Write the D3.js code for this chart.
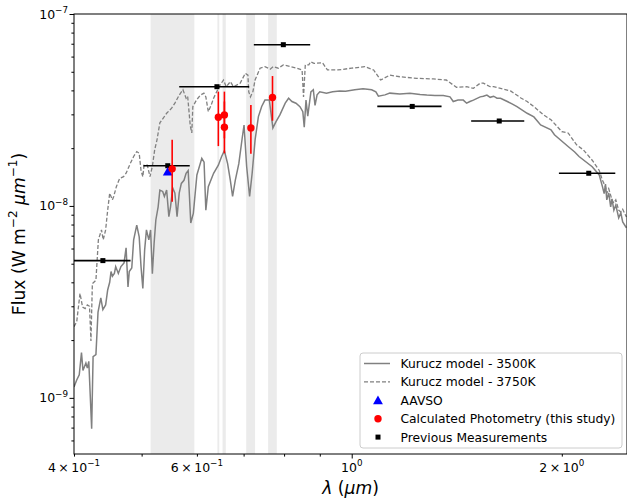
<!DOCTYPE html>
<html>
<head>
<meta charset="utf-8">
<script src="https://cdn.jsdelivr.net/npm/d3@7"></script>
<style>
  body { margin: 0; background: #fff; }
  svg { font-family: "DejaVu Sans", sans-serif; }
</style>
</head>
<body>
<div id="chart"></div>
<script>
// wavelength windows of the filters (grey bands), micron
const bandStart = [0.515, 0.642, 0.653, 0.706, 0.759];
const bandEnd   = [0.595, 0.646, 0.660, 0.727, 0.781];

// Kurucz model 3500K (lambda in micron, flux in W m^-2 um^-1)
const model3500Lambda = [0.400,0.4036,0.407,0.410,0.412,0.416,0.418,0.420,0.424,0.426,0.430,0.433,0.437,0.440,0.444,0.447,0.450,0.452,0.454,0.457,0.459,0.463,0.467,0.4718,0.475,0.478,0.480,0.484,0.487,0.492,0.496,0.499,0.502,0.505,0.508,0.512,0.515,0.518,0.521,0.524,0.528,0.531,0.536,0.539,0.543,0.547,0.550,0.554,0.558,0.562,0.566,0.570,0.575,0.579,0.583,0.588,0.593,0.600,0.6098,0.6144,0.618,0.623,0.634,0.644,0.651,0.657,0.664,0.670,0.675,0.681,0.689,0.697,0.701,0.707,0.714,0.720,0.727,0.735,0.743,0.751,0.762,0.771,0.779,0.789,0.803,0.812,0.821,0.832,0.843,0.851,0.855,0.860,0.865,0.874,0.881,0.886,0.892,0.900,0.920,0.939,0.961,0.980,1.010,1.038,1.068,1.083,1.092,1.116,1.134,1.172,1.212,1.253,1.281,1.316,1.353,1.383,1.398,1.420,1.445,1.461,1.477,1.494,1.528,1.544,1.562,1.579,1.597,1.615,1.634,1.671,1.697,1.725,1.784,1.824,1.865,1.930,1.952,2.042,2.087,2.117,2.211,2.263,2.287,2.300,2.310,2.320,2.335,2.350,2.360,2.375,2.390,2.413,2.430,2.445,2.475];
const model3500Flux = [1.14e-9,1.24e-9,1.32e-9,1.72e-9,1.39e-9,1.52e-9,1.43e-9,1.55e-9,6.9e-10,1.64e-9,1.68e-9,2.80e-9,3.32e-9,2.88e-9,3.05e-9,3.65e-9,4.0e-9,4.55e-9,4.3e-9,4.45e-9,4.83e-9,4.45e-9,4.83e-9,5.05e-9,6.05e-9,3.78e-9,4.55e-9,4.75e-9,6.66e-9,7.95e-9,6.9e-9,4.83e-9,3.72e-9,5.9e-9,7.5e-9,6.66e-9,7.5e-9,4.43e-9,6.39e-9,8.45e-9,9.9e-9,1.21e-8,1.19e-8,1.12e-8,1.21e-8,8.8e-9,9.9e-9,1.24e-8,1.165e-8,8.8e-9,1.165e-8,1.31e-8,1.36e-8,1.48e-8,1.53e-8,8.15e-9,9.15e-9,1.45e-8,1.77e-8,1.69e-8,9.5e-9,1.26e-8,1.48e-8,1.63e-8,1.81e-8,1.94e-8,1.66e-8,1.36e-8,1.12e-8,1.36e-8,1.66e-8,2.28e-8,2.64e-8,1.61e-8,1.12e-8,1.48e-8,2.21e-8,2.92e-8,3.30e-8,3.56e-8,3.56e-8,2.55e-8,2.75e-8,2.98e-8,3.43e-8,3.64e-8,3.50e-8,3.43e-8,3.29e-8,3.10e-8,2.57e-8,3.56e-8,2.94e-8,3.93e-8,4.03e-8,3.34e-8,3.79e-8,3.93e-8,3.87e-8,3.93e-8,3.97e-8,3.96e-8,4.03e-8,4.08e-8,4.03e-8,3.93e-8,3.73e-8,3.79e-8,3.87e-8,3.83e-8,3.87e-8,3.81e-8,3.78e-8,3.76e-8,3.76e-8,3.70e-8,3.50e-8,3.56e-8,3.56e-8,3.43e-8,3.50e-8,3.56e-8,3.70e-8,3.73e-8,3.78e-8,3.68e-8,3.73e-8,3.64e-8,3.64e-8,3.50e-8,3.40e-8,3.29e-8,3.04e-8,2.91e-8,2.64e-8,2.49e-8,2.35e-8,2.04e-8,1.91e-8,1.81e-8,1.60e-8,1.45e-8,1.26e-8,1.16e-8,1.30e-8,1.075e-8,1.17e-8,9.9e-9,1.09e-8,9.5e-9,1.01e-8,8.66e-9,9.2e-9,8.25e-9,7.7e-9];

// Kurucz model 3750K
const model3750Lambda = [0.400,0.4036,0.408,0.4115,0.415,0.418,0.421,0.423,0.425,0.430,0.4335,0.438,0.4405,0.444,0.447,0.450,0.454,0.456,0.460,0.465,0.471,0.475,0.4815,0.487,0.492,0.496,0.499,0.502,0.504,0.5095,0.514,0.518,0.522,0.526,0.531,0.537,0.543,0.552,0.558,0.566,0.573,0.579,0.582,0.587,0.590,0.592,0.599,0.607,0.614,0.618,0.623,0.629,0.634,0.641,0.648,0.655,0.661,0.670,0.677,0.685,0.692,0.704,0.710,0.712,0.716,0.722,0.727,0.739,0.751,0.764,0.772,0.785,0.798,0.816,0.834,0.849,0.853,0.858,0.868,0.873,0.883,0.908,0.923,0.955,1.000,1.044,1.075,1.100,1.134,1.172,1.240,1.309,1.366,1.413,1.461,1.494,1.528,1.544,1.579,1.597,1.634,1.691,1.750,1.784,1.824,1.883,1.930,2.000,2.042,2.100,2.147,2.211,2.236,2.263,2.287,2.310,2.320,2.335,2.360,2.375,2.390,2.413,2.430,2.445,2.475];
const model3750Flux = [2.35e-9,2.49e-9,3.5e-9,2.97e-9,2.92e-9,3.05e-9,3.0e-9,1.98e-9,3.94e-9,4.1e-9,6.66e-9,7.5e-9,6.66e-9,7.5e-9,9.5e-9,1.165e-8,1.075e-8,1.12e-8,1.26e-8,1.39e-8,1.42e-8,1.48e-8,1.66e-8,1.81e-8,1.92e-8,1.88e-8,1.53e-8,1.42e-8,1.63e-8,1.63e-8,1.42e-8,1.61e-8,1.96e-8,2.21e-8,2.71e-8,2.87e-8,3.04e-8,3.23e-8,3.43e-8,3.78e-8,4.03e-8,3.64e-8,3.73e-8,2.62e-8,2.40e-8,3.29e-8,3.56e-8,3.78e-8,3.87e-8,3.70e-8,3.10e-8,3.36e-8,3.64e-8,3.96e-8,4.28e-8,4.53e-8,4.18e-8,4.44e-8,4.18e-8,4.27e-8,4.36e-8,4.91e-8,4.8e-8,3.93e-8,3.70e-8,3.96e-8,4.53e-8,5.22e-8,5.32e-8,5.16e-8,5.32e-8,5.22e-8,5.43e-8,5.32e-8,5.22e-8,5.11e-8,3.70e-8,5.43e-8,5.43e-8,5.64e-8,5.53e-8,5.57e-8,5.11e-8,5.11e-8,5.22e-8,5.32e-8,5.11e-8,4.53e-8,4.80e-8,4.71e-8,4.62e-8,4.59e-8,4.53e-8,4.15e-8,4.18e-8,4.10e-8,4.36e-8,4.36e-8,4.18e-8,4.18e-8,4.10e-8,3.96e-8,3.64e-8,3.50e-8,3.29e-8,2.98e-8,2.81e-8,2.44e-8,2.40e-8,2.08e-8,1.96e-8,1.73e-8,1.63e-8,1.53e-8,1.36e-8,1.26e-8,1.165e-8,1.23e-8,1.075e-8,1.035e-8,1.075e-8,9.5e-9,9.3e-9,9.6e-9,8.75e-9];

// previous measurements (B V R I J H K)
const prevLambda = [0.440, 0.545, 0.641, 0.798, 1.221, 1.627, 2.186];
const prevFlux   = [5.19e-9, 1.62e-8, 4.18e-8, 6.92e-8, 3.30e-8, 2.77e-8, 1.48e-8];
const prevLamLo  = [0.398, 0.503, 0.566, 0.724, 1.088, 1.483, 1.981];
const prevLamHi  = [0.482, 0.586, 0.713, 0.872, 1.345, 1.767, 2.386];

// AAVSO
const aavsoLambda = [0.545];
const aavsoFlux   = [1.51e-8];

// calculated photometry (this study)
const calcLambda = [0.553, 0.644, 0.657, 0.657, 0.717, 0.770];
const calcFlux   = [1.56e-8, 2.90e-8, 2.98e-8, 2.57e-8, 2.55e-8, 3.67e-8];
const calcLo     = [1.05e-8, 2.05e-8, 2.25e-8, 1.88e-8, 1.87e-8, 2.78e-8];
const calcHi     = [2.21e-8, 3.94e-8, 3.94e-8, 3.50e-8, 3.36e-8, 4.75e-8];

// axis ticks
const xMajor = [1];
const xMinor = [0.4, 0.5, 0.6, 0.7, 0.8, 0.9, 2];
const xLabels = [[0.4, "4\u2009\u00d7\u200910", "\u22121"], [0.6, "6\u2009\u00d7\u200910", "\u22121"], [1, "10", "0"], [2, "2\u2009\u00d7\u200910", "0"]];
const yMajor = [1e-9, 1e-8, 1e-7];
const yLabels = [[1e-9, "10", "\u22129"], [1e-8, "10", "\u22128"], [1e-7, "10", "\u22127"]];

const legendLabels = ["Kurucz model - 3500K", "Kurucz model - 3750K", "AAVSO",
                      "Calculated Photometry (this study)", "Previous Measurements"];

const W = 627, H = 498;
const m = {left: 74, right: 627, top: 14, bottom: 454};
const grey = "#808080";

const x = d3.scaleLog().domain([0.4, 2.48]).range([m.left, m.right]);
const y = d3.scaleLog().domain([5.1e-10, 1e-7]).range([m.bottom, m.top]);

const yMinor = [];
[1e-10, 1e-9, 1e-8].forEach(dec => { for (let k = 2; k <= 9; k++) { const v = k * dec; if (v >= 5.1e-10 && v < 1e-7) yMinor.push(v); } });

const svg = d3.select("#chart").append("svg").attr("width", W).attr("height", H);

svg.append("clipPath").attr("id", "clip").append("rect")
  .attr("x", m.left).attr("y", m.top).attr("width", m.right - m.left).attr("height", m.bottom - m.top);

const plot = svg.append("g").attr("clip-path", "url(#clip)");

// filter bands
plot.selectAll("rect.band").data(bandStart).enter().append("rect")
  .attr("class", "band")
  .attr("x", d => x(d))
  .attr("width", (d, i) => x(bandEnd[i]) - x(d))
  .attr("y", m.top).attr("height", m.bottom - m.top)
  .attr("fill", "#ebebeb");

const line = d3.line().x(d => x(d[0])).y(d => y(d[1]));

plot.append("path")
  .datum(model3500Lambda.map((l, i) => [l, model3500Flux[i]]))
  .attr("d", line).attr("fill", "none").attr("stroke", grey).attr("stroke-width", 1.5);

plot.append("path")
  .datum(model3750Lambda.map((l, i) => [l, model3750Flux[i]]))
  .attr("d", line).attr("fill", "none").attr("stroke", grey).attr("stroke-width", 1.3)
  .attr("stroke-dasharray", "4,2");

// previous measurements with x error bars
plot.selectAll("line.xerr").data(prevLambda).enter().append("line")
  .attr("x1", (d, i) => x(prevLamLo[i])).attr("x2", (d, i) => x(prevLamHi[i]))
  .attr("y1", (d, i) => y(prevFlux[i])).attr("y2", (d, i) => y(prevFlux[i]))
  .attr("stroke", "#000").attr("stroke-width", 1.6);
plot.selectAll("rect.prev").data(prevLambda).enter().append("rect")
  .attr("x", d => x(d) - 2.5).attr("y", (d, i) => y(prevFlux[i]) - 2.5)
  .attr("width", 5).attr("height", 5).attr("fill", "#000");

// AAVSO triangle
const tri = d3.symbol().type(d3.symbolTriangle).size(42);
plot.selectAll("path.aavso").data(aavsoLambda).enter().append("path")
  .attr("d", tri)
  .attr("transform", (d, i) => `translate(${x(d)},${y(aavsoFlux[i]) + 1})`)
  .attr("fill", "#0000ff");

// calculated photometry
plot.selectAll("line.yerr").data(calcLambda).enter().append("line")
  .attr("x1", d => x(d)).attr("x2", d => x(d))
  .attr("y1", (d, i) => y(calcLo[i])).attr("y2", (d, i) => y(calcHi[i]))
  .attr("stroke", "#ff0000").attr("stroke-width", 1.6);
plot.selectAll("circle.calc").data(calcLambda).enter().append("circle")
  .attr("cx", d => x(d)).attr("cy", (d, i) => y(calcFlux[i])).attr("r", 3.7)
  .attr("fill", "#ff0000");

// frame
svg.append("rect").attr("x", m.left).attr("y", m.top)
  .attr("width", m.right - m.left).attr("height", m.bottom - m.top)
  .attr("fill", "none").attr("stroke", "#000").attr("stroke-width", 1);

// axes
function styleAxis(g) {
  g.select(".domain").remove();
  g.selectAll(".tick line").attr("stroke", "#000").attr("stroke-width", 1);
}
svg.append("g").attr("transform", `translate(0,${m.bottom})`)
  .call(d3.axisBottom(x).tickValues(xMajor).tickSize(4.5).tickFormat(""))
  .call(styleAxis);
svg.append("g").attr("transform", `translate(0,${m.bottom})`)
  .call(d3.axisBottom(x).tickValues(xMinor).tickSize(2.6).tickFormat(""))
  .call(styleAxis);
svg.append("g").attr("transform", `translate(${m.left},0)`)
  .call(d3.axisLeft(y).tickValues(yMajor).tickSize(4.5).tickFormat(""))
  .call(styleAxis);
svg.append("g").attr("transform", `translate(${m.left},0)`)
  .call(d3.axisLeft(y).tickValues(yMinor).tickSize(2.6).tickFormat(""))
  .call(styleAxis);

function sup(t, base, exp, size) {
  t.append("tspan").text(base);
  t.append("tspan").attr("dy", -size * 0.45).attr("font-size", size * 0.7).text(exp);
}

const fs = 12.5;
yLabels.forEach(([v, b, e]) => {
  const t = svg.append("text").attr("x", 68).attr("y", y(v) + fs * 0.36)
    .attr("text-anchor", "end").attr("font-size", fs);
  sup(t, b, e, fs);
});
xLabels.forEach(([v, b, e]) => {
  const t = svg.append("text").attr("x", x(v)).attr("y", 472)
    .attr("text-anchor", "middle").attr("font-size", fs);
  sup(t, b, e, fs);
});

// axis titles
const ls = 17.2;
const xt = svg.append("text").attr("x", (m.left + m.right) / 2).attr("y", 494)
  .attr("text-anchor", "middle").attr("font-size", ls);
xt.append("tspan").attr("font-style", "italic").text("\u03bb");
xt.append("tspan").text(" (");
xt.append("tspan").attr("font-style", "italic").text("\u03bcm");
xt.append("tspan").text(")");

const yt = svg.append("text")
  .attr("transform", `translate(25,${(m.top + m.bottom) / 2}) rotate(-90)`)
  .attr("text-anchor", "middle").attr("font-size", ls);
yt.append("tspan").text("Flux (W m");
yt.append("tspan").attr("dy", -ls * 0.45).attr("font-size", ls * 0.7).text("\u22122");
yt.append("tspan").attr("dy", ls * 0.45).text(" ");
yt.append("tspan").attr("font-style", "italic").text("\u03bcm");
yt.append("tspan").attr("dy", -ls * 0.45).attr("font-size", ls * 0.7).text("\u22121");
yt.append("tspan").attr("dy", ls * 0.45).text(")");

// legend
const lg = svg.append("g");
lg.append("rect").attr("x", 360).attr("y", 353).attr("width", 262).attr("height", 95)
  .attr("rx", 3).attr("fill", "#fff").attr("fill-opacity", 0.8)
  .attr("stroke", "#cccccc").attr("stroke-width", 1);
const rowY = i => 363.5 + i * 18.4;
lg.append("line").attr("x1", 364).attr("x2", 390).attr("y1", rowY(0)).attr("y2", rowY(0))
  .attr("stroke", grey).attr("stroke-width", 1.5);
lg.append("line").attr("x1", 364).attr("x2", 390).attr("y1", rowY(1)).attr("y2", rowY(1))
  .attr("stroke", grey).attr("stroke-width", 1.3).attr("stroke-dasharray", "4,2");
lg.append("path").attr("d", tri).attr("transform", `translate(378,${rowY(2) + 1})`).attr("fill", "#0000ff");
lg.append("circle").attr("cx", 378).attr("cy", rowY(3)).attr("r", 3.7).attr("fill", "#ff0000");
lg.append("rect").attr("x", 375.5).attr("y", rowY(4) - 2.5).attr("width", 5).attr("height", 5).attr("fill", "#000");
lg.selectAll("text").data(legendLabels).enter().append("text")
  .attr("x", 400.5).attr("y", (d, i) => rowY(i) + 12.3 * 0.36)
  .attr("font-size", 12.3).text(d => d);
</script>
</body>
</html>
